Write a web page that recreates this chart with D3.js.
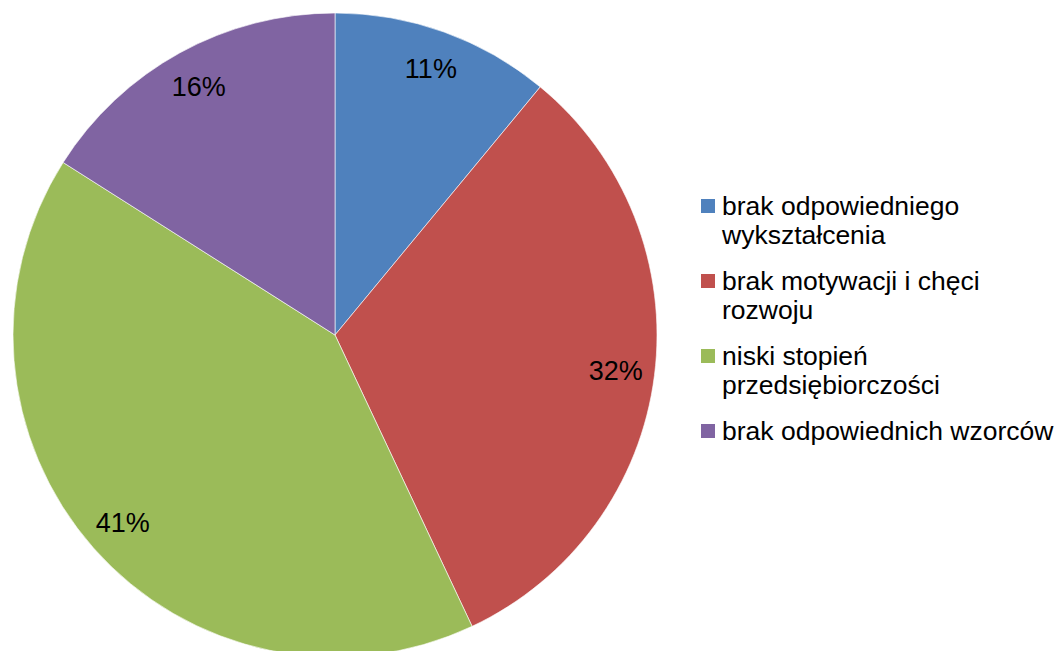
<!DOCTYPE html>
<html>
<head>
<meta charset="utf-8">
<script src="https://cdn.jsdelivr.net/npm/d3@7/dist/d3.min.js"></script>
<style>
  html, body { margin: 0; padding: 0; background: #fff; }
  svg { display: block; }
  text { font-family: "Liberation Sans", Arial, sans-serif; fill: #000; }
</style>
</head>
<body>
<svg id="chart" width="1056" height="651"></svg>
<script>
const categories = [
  ["brak odpowiedniego", "wykształcenia"],
  ["brak motywacji i chęci", "rozwoju"],
  ["niski stopień", "przedsiębiorczości"],
  ["brak odpowiednich wzorców"]
];
const values = [11, 32, 41, 16];
const colors = ["#4F81BD", "#C0504D", "#9BBB59", "#8064A2"];

const svg = d3.select("#chart");
const cx = 335, cy = 335, R = 322, labelR = 283;

const data = values.map((v, i) => ({ value: v, name: categories[i], color: colors[i] }));
const pie = d3.pie().value(d => d.value).sort(null);
const arcs = pie(data);
const arc = d3.arc().innerRadius(0).outerRadius(R);
const labelArc = d3.arc().innerRadius(labelR).outerRadius(labelR);
const total = d3.sum(values);

const g = svg.append("g").attr("transform", `translate(${cx},${cy})`);
g.selectAll("path").data(arcs).join("path")
  .attr("d", arc)
  .attr("fill", d => d.data.color)
  .attr("stroke", "#ffffff")
  .attr("stroke-opacity", 0.6)
  .attr("stroke-width", 1);

g.selectAll("text.lbl").data(arcs).join("text")
  .attr("class", "lbl")
  .attr("transform", d => `translate(${labelArc.centroid(d)})`)
  .attr("text-anchor", "middle")
  .attr("dy", "0.35em")
  .attr("font-size", 27)
  .text(d => Math.round(d.data.value / total * 100) + "%");

// Legend
const lg = svg.append("g").attr("transform", "translate(701,215)");
const item = lg.selectAll("g.item").data(data).join("g")
  .attr("class", "item")
  .attr("transform", (d, i) => `translate(0,${i * 75})`);
item.append("rect")
  .attr("x", 0).attr("y", -16)
  .attr("width", 14).attr("height", 14)
  .attr("fill", d => d.color);
item.append("text")
  .attr("x", 21)
  .attr("font-size", 26.5)
  .selectAll("tspan").data(d => d.name).join("tspan")
  .attr("x", 21)
  .attr("y", (d, j) => j * 29)
  .text(d => d);
</script>
</body>
</html>
